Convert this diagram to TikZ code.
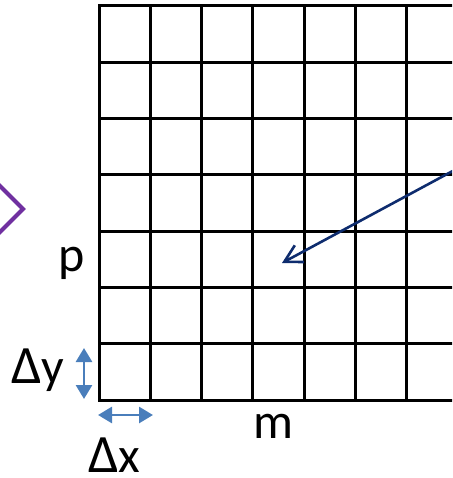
\documentclass[tikz,border=0pt]{standalone}
\usepackage{fontspec}
\setmainfont{Carlito}
\usepackage{xcolor}
\usetikzlibrary{arrows.meta}
\definecolor{gridnavy}{HTML}{0E2C6E}
\definecolor{stepblue}{HTML}{4A7EBB}
\definecolor{markpurple}{HTML}{7030A0}

\begin{document}
\begin{tikzpicture}[x=1pt, y=-1pt, gridline/.style={line width=3pt, line cap=rect}, label/.style={inner sep=0pt, anchor=base west, font=\fontsize{50}{60}\selectfont}, steparrow/.style={{Triangle[length=14pt,width=16pt]}-{Triangle[length=14pt,width=16pt]}, stepblue, line width=2.8pt}, pointer/.style={-{Straight Barb[length=17pt,width=19pt,line width=2.6pt]}, gridnavy, line width=2.6pt}]
\clip (0,0) rectangle (452,478);
\useasboundingbox (0,0) rectangle (452,478);
% grid
\foreach \k in {0,...,7} \draw[gridline] (99,6+56.3*\k) -- (470,6+56.3*\k);
\foreach \k in {0,...,7} \draw[gridline] (99+51.3*\k,6) -- (99+51.3*\k,400);
% purple marker at the left edge
\draw[markpurple, line width=4pt, miter limit=10] (-2,184) -- (23,209) -- (-2,234);
% labels
\node[label] (p) at (58,271) {p};
\node[label] (dy) at (11,383) {{\fontsize{54}{60}\selectfont Δ}y};
\node[label, text depth=0pt] (dx) at (88,472) {{\fontsize{54}{60}\selectfont Δ}x};
\node[label, anchor=base] (m) at (273,438) {m};
% step arrows
\coordinate (dytop) at (84,348);
\coordinate (dybot) at (84,399);
\coordinate (dxleft) at (98,415);
\coordinate (dxright) at (153,415);
\draw[steparrow] (dytop) -- (dybot);
\draw[steparrow] (dxleft) -- (dxright);
% pointer into the grid
\coordinate (from) at (462,166);
\coordinate (cell) at (282,263);
\draw[pointer] (from) -- (cell);
\end{tikzpicture}
\end{document}
